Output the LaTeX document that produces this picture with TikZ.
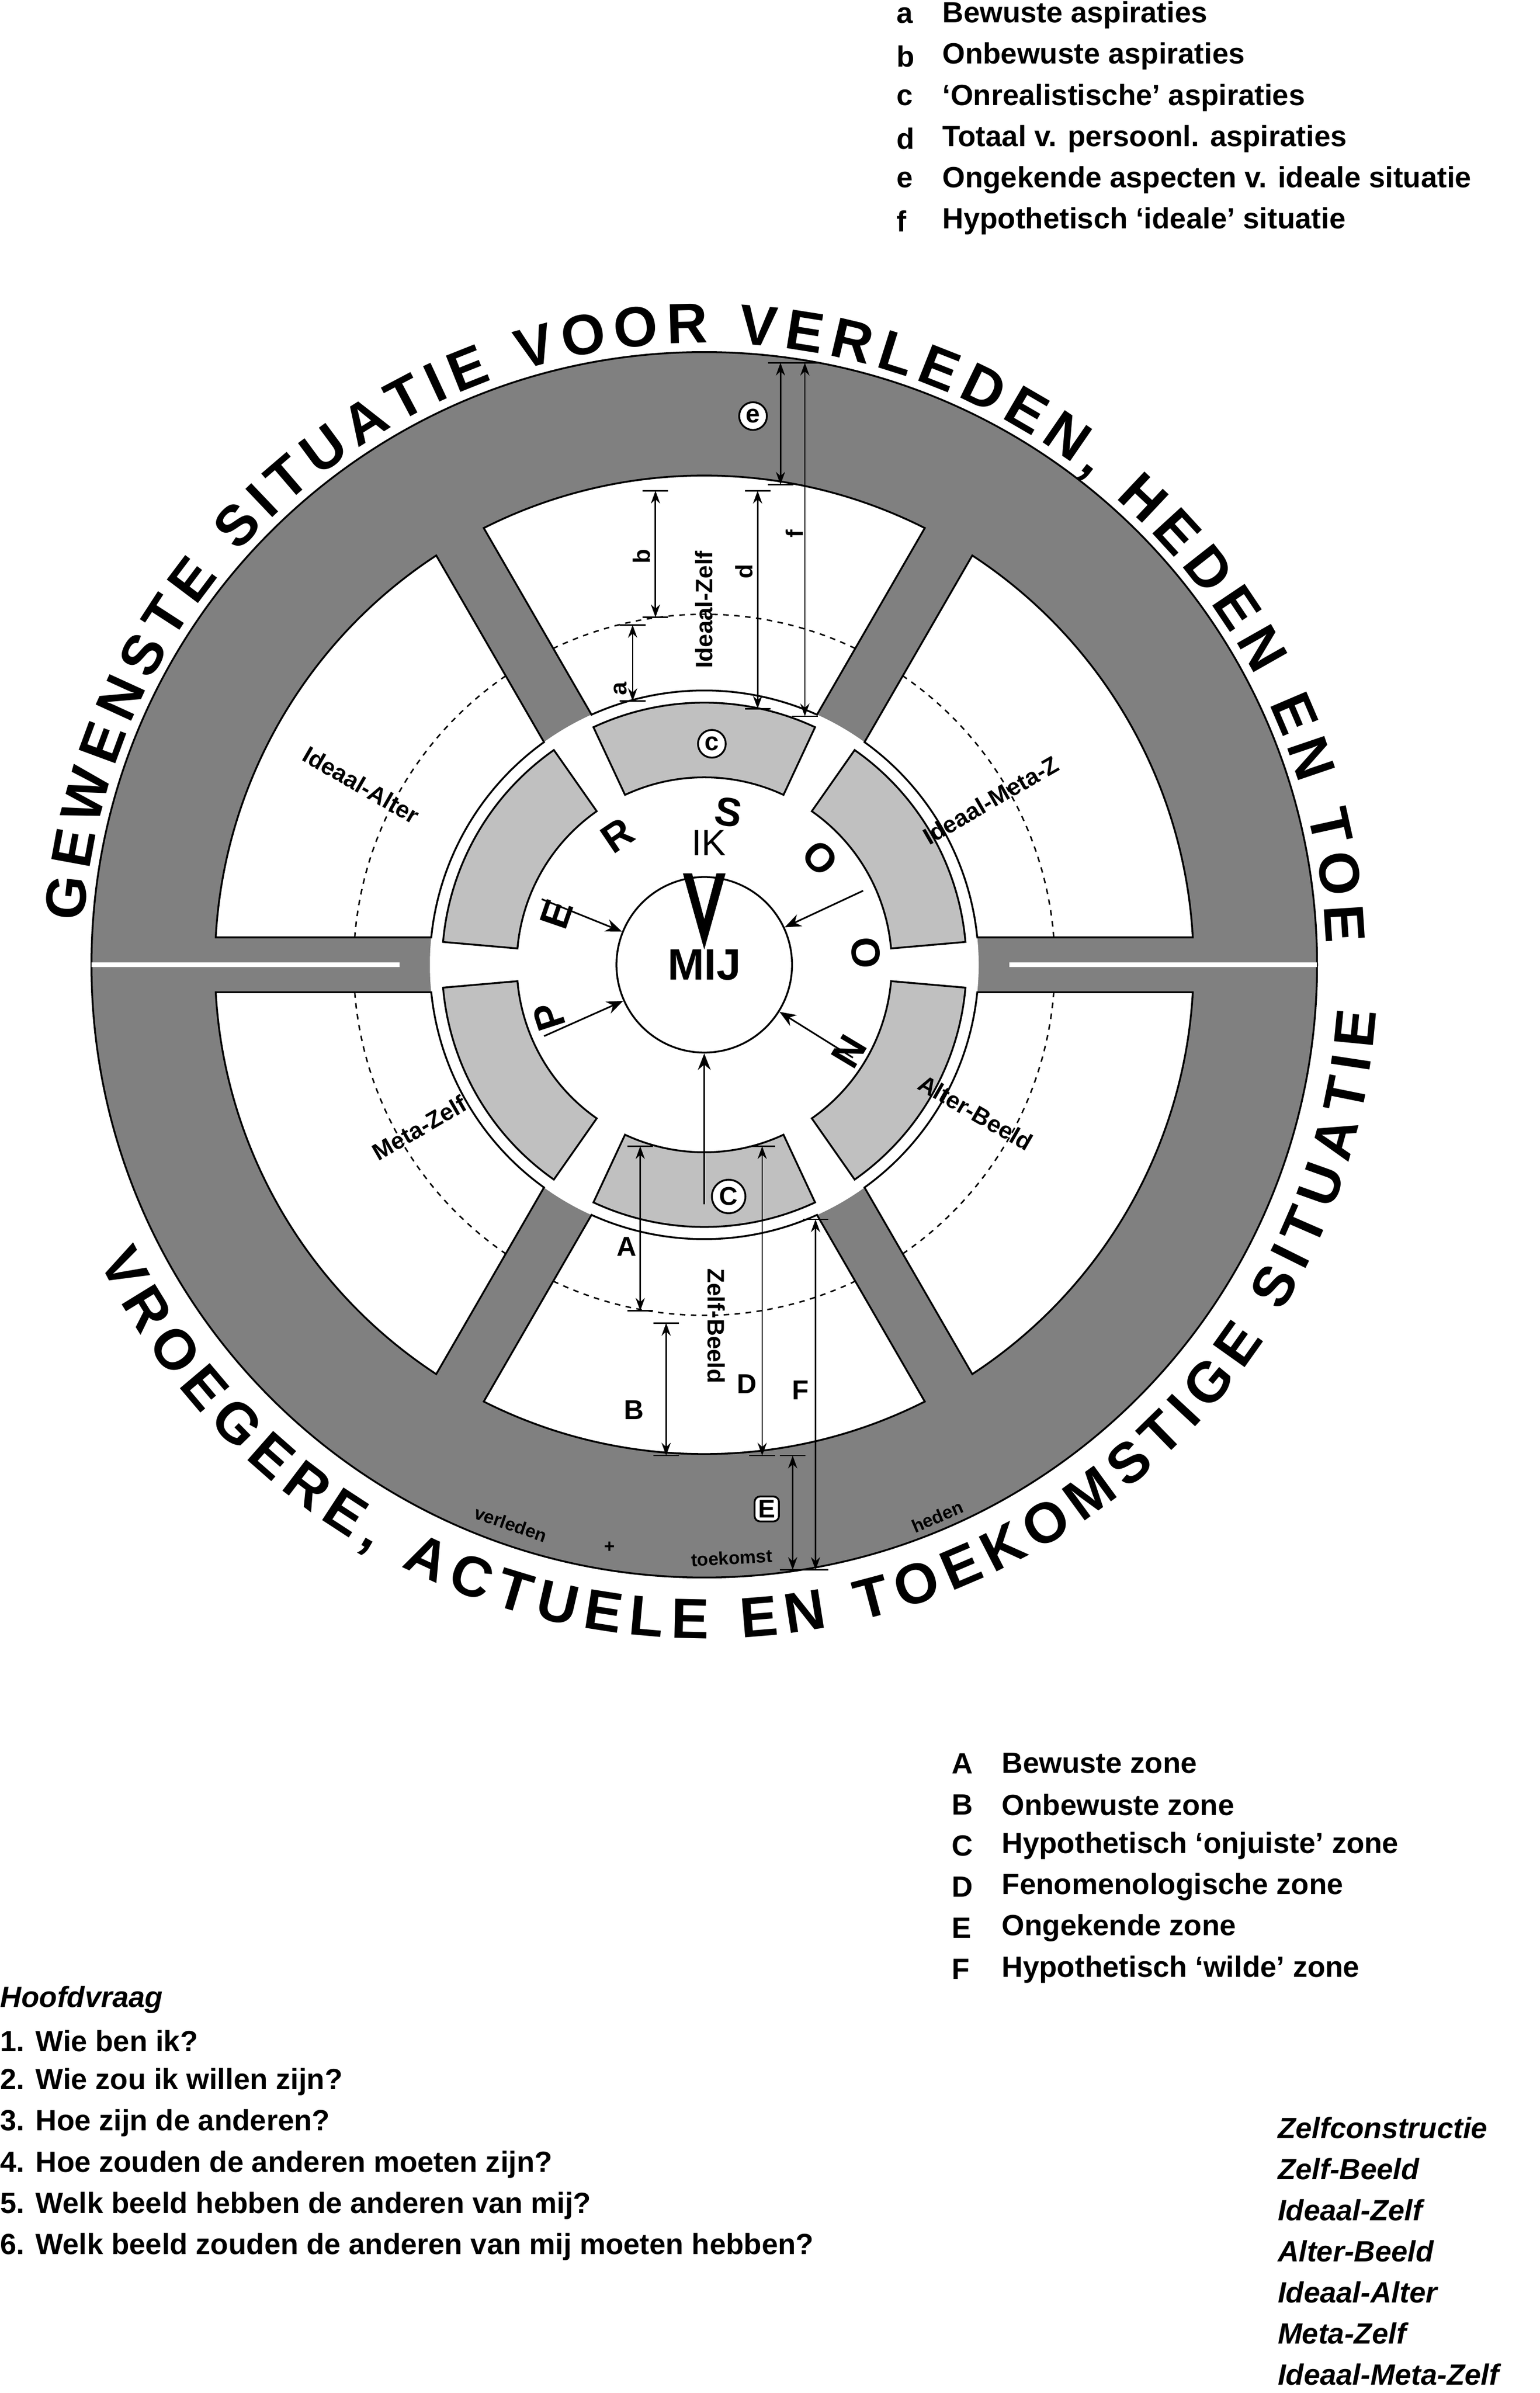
\documentclass[tikz,border=0pt]{standalone}
\usepackage{fontspec}
\setmainfont{Liberation Sans}
\usetikzlibrary{decorations.text,arrows.meta}
\definecolor{dg}{HTML}{808080}
\definecolor{lg}{HTML}{C0C0C0}
\begin{document}
\begin{tikzpicture}[x=0.0293cm,y=0.0293cm,
  leg/.style={anchor=west,font=\fontsize{16}{18}\selectfont\bfseries,inner sep=0},
  lab/.style={font=\fontsize{13}{14}\selectfont\bfseries,inner sep=1},
  big/.style={font=\fontsize{22}{24}\selectfont\bfseries,inner sep=1},
  meas/.style={{Stealth[length=7,width=5]}-{Stealth[length=7,width=5]},line width=0.8pt},
  circ/.style={circle,draw,fill=white,line width=1pt,inner sep=1.5pt,font=\fontsize{14}{14}\selectfont\bfseries}]
\useasboundingbox (0,0) rectangle (1010,1570);
\fill[white] (0,0) rectangle (1010,1570);
% legends
\foreach \l/\t [count=\i] in {a/Bewuste aspiraties,b/Onbewuste aspiraties,c/`Onrealistische' aspiraties,d/Totaal v. persoonl. aspiraties,e/Ongekende aspecten v. ideale situatie,f/Hypothetisch `ideale' situatie}{
  \node[leg] (la\i) at (588,{1587-27*\i}) {\l};
  \node[leg] (lt\i) at (618,{1587-27*\i}) {\t};}
\foreach \l/\t [count=\i] in {A/Bewuste zone,B/Onbewuste zone,C/Hypothetisch `onjuiste' zone,D/Fenomenologische zone,E/Ongekende zone,F/Hypothetisch `wilde' zone}{
  \node[leg] (za\i) at (624,{440-27*\i}) {\l};
  \node[leg] (zt\i) at (657,{440-27*\i}) {\t};}
\node[leg,font=\fontsize{16}{18}\selectfont\bfseries\itshape] (hv) at (0,258) {Hoofdvraag};
\foreach \t [count=\i] in {1. Wie ben ik?,2. Wie zou ik willen zijn?,3. Hoe zijn de anderen?,4. Hoe zouden de anderen moeten zijn?,5. Welk beeld hebben de anderen van mij?,6. Welk beeld zouden de anderen van mij moeten hebben?}
  \node[leg] (q\i) at (0,{258-27*\i}) {\t};
\foreach \t [count=\i] in {Zelfconstructie,Zelf-Beeld,Ideaal-Zelf,Alter-Beeld,Ideaal-Alter,Meta-Zelf,Ideaal-Meta-Zelf}
  \node[leg,font=\fontsize{16}{18}\selectfont\bfseries\itshape] (zc\i) at (838,{201-27*\i}) {\t};
% wheel
\begin{scope}[shift={(462,937)}]
\fill[dg,draw=black,line width=1pt] (0,0) circle[radius=402];
\fill[white] (0,0) circle[radius=180];
\foreach \c in {90,30,-30,-90,-150,150}{
  \filldraw[fill=white,draw=black,line width=1pt]
   ({\c-30+asin(18/321)}:321) arc[start angle={\c-30+asin(18/321)},end angle={\c+30-asin(18/321)},radius=321]
   -- ({\c+30-asin(18/180)}:180) arc[start angle={\c+30-asin(18/180)},end angle={\c-30+asin(18/180)},radius=180] -- cycle;
  \draw[dashed,line width=0.8pt] ({\c-30+asin(18/230)}:230) arc[start angle={\c-30+asin(18/230)},end angle={\c+30-asin(18/230)},radius=230];
  \filldraw[fill=lg,draw=black,line width=1pt]
   ({\c-25}:172) arc[start angle={\c-25},end angle={\c+25},radius=172]
   -- ({\c+25}:123) arc[start angle={\c+25},end angle={\c-25},radius=123] -- cycle;
}
\draw[white,line width=2.5pt] (180:200) -- (180:402);
\draw[white,line width=2.5pt] (0:200) -- (0:402);
\node[circle,draw,fill=white,line width=1pt,minimum size=96,inner sep=0,font=\fontsize{24}{24}\selectfont\bfseries] (mij) at (0,0) {MIJ};
\foreach \a/\r in {158/115,25/115,204/115,328/115,270/157}
  \draw[-{Stealth[length=9,width=7]},line width=0.9pt] (\a:\r) -- (mij);
\fill[black] (-14,60) -- (0,10) -- (14,60) -- (8,60) -- (0,30) -- (-8,60) -- cycle;
\node[font=\fontsize{20}{20}\selectfont] (ik) at (3,80) {IK};
% outer text
\path[decorate,decoration={text along path,text align={fit to path},
  text={|\fontsize{31}{31}\selectfont\bfseries|GEWENSTE SITUATIE VOOR VERLEDEN{,} HEDEN EN TOE}}]
  (176:408) arc[start angle=176,end angle=2,radius=408];
\path[decorate,decoration={text along path,text align={fit to path},
  text={|\fontsize{31}{31}\selectfont\bfseries|VROEGERE{,} ACTUELE EN TOEKOMSTIGE SITUATIE}}]
  (206:442) arc[start angle=206,end angle=356,radius=442];
\end{scope}
% sector labels
\node[lab,rotate=90] (iz) at (462,1170) {Ideaal-Zelf};
\node[lab,rotate=30] (imz) at (650,1045) {Ideaal-Meta-Z};
\node[lab,rotate=-30] (ab) at (640,840) {Alter-Beeld};
\node[lab,rotate=-90] (zb) at (470,700) {Zelf-Beeld};
\node[lab,rotate=30] (mz) at (275,830) {Meta-Zelf};
\node[lab,rotate=-30] (ia) at (237,1055) {Ideaal-Alter};
\foreach \t/\x/\y/\r [count=\i] in {R/405/1022/34,E/365/970/71,P/360/903/108,S/478/1037/-9,O/538/1007/-47,O/568/945/-86,N/557/880/-121}
  \node[big,rotate=\r] (ps\i) at (\x,\y) {\t};
% measure arrows top
\foreach \x/\a/\b [count=\i] in {430/1248/1165,415/1160/1110,497/1248/1105,512/1332/1252,528/1332/1100}{
  \coordinate (ta\i) at (\x,\a); \coordinate (tb\i) at (\x,\b);
  \draw[meas] (ta\i) -- (tb\i);
  \draw[line width=0.8pt] ([xshift=-7]ta\i) -- ([xshift=7]ta\i) ([xshift=-7]tb\i) -- ([xshift=7]tb\i);}
\node[lab,rotate=90] (lb) at (421,1205) {b};
\node[lab,rotate=90] (la) at (407,1118) {a};
\node[lab,rotate=90] (ld) at (488,1195) {d};
\node[lab,rotate=90] (lf) at (521,1220) {f};
\node[circ] (ce) at (494,1297) {e};
\node[circ] (cc) at (467,1082) {c};
% measure arrows bottom
\foreach \x/\a/\b [count=\i] in {420/818/710,437/702/615,500/818/615,535/770/540,520/615/540}{
  \coordinate (ba\i) at (\x,\a); \coordinate (bb\i) at (\x,\b);
  \draw[meas] (ba\i) -- (bb\i);
  \draw[line width=0.8pt] ([xshift=-7]ba\i) -- ([xshift=7]ba\i) ([xshift=-7]bb\i) -- ([xshift=7]bb\i);}
\node[lab,font=\fontsize{15}{15}\selectfont\bfseries] (lA) at (411,752) {A};
\node[lab,font=\fontsize{15}{15}\selectfont\bfseries] (lB) at (416,645) {B};
\node[lab,font=\fontsize{15}{15}\selectfont\bfseries] (lD) at (490,662) {D};
\node[lab,font=\fontsize{15}{15}\selectfont\bfseries] (lF) at (525,658) {F};
\node[circ] (cC) at (478,785) {C};
\node[draw,fill=white,rounded corners=3,line width=1pt,inner sep=2pt,font=\fontsize{14}{14}\selectfont\bfseries] (bE) at (503,580) {E};
\node[lab,rotate=-19,font=\fontsize{10}{10}\selectfont\bfseries] (rv) at (335,570) {verleden};
\node[lab,font=\fontsize{10}{10}\selectfont\bfseries] (rp) at (400,555) {+};
\node[lab,rotate=3,font=\fontsize{10}{10}\selectfont\bfseries] (rt) at (480,548) {toekomst};
\node[lab,rotate=23,font=\fontsize{10}{10}\selectfont\bfseries] (rh) at (615,575) {heden};
\end{tikzpicture}
\end{document}
